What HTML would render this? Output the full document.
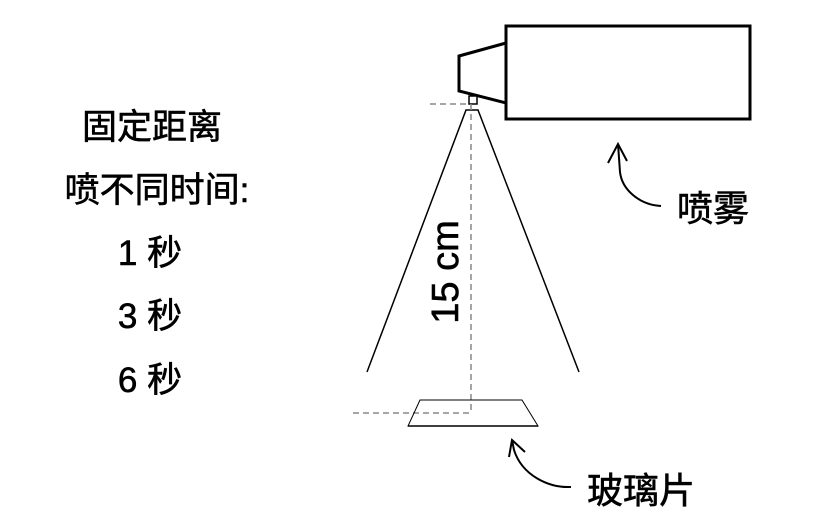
<!DOCTYPE html>
<html><head><meta charset="utf-8"><style>
html,body{margin:0;padding:0;background:#fff;}
svg{display:block;}
text{font-family:"Liberation Sans","Noto Sans CJK SC",sans-serif;fill:#000;stroke:#000;stroke-width:0.6;}
</style></head><body>
<svg width="826" height="530" viewBox="0 0 826 530" xmlns="http://www.w3.org/2000/svg">
<rect x="0" y="0" width="826" height="530" fill="#fff"/>
<rect x="506" y="26" width="244" height="93" fill="#fff" stroke="#000" stroke-width="3"/>
<polygon points="459,56 506,43 506,103 459,91" fill="#fff" stroke="#000" stroke-width="3"/>
<rect x="469" y="96" width="8" height="8" fill="#fff" stroke="#000" stroke-width="1.5"/>
<polyline points="367,372 466,110 478,110 579,372" fill="none" stroke="#000" stroke-width="1.5"/>
<line x1="430" y1="104" x2="470" y2="104" stroke="#888" stroke-width="1.5" stroke-dasharray="6,4"/>
<line x1="471" y1="104" x2="471" y2="413" stroke="#888" stroke-width="1.5" stroke-dasharray="6,4"/>
<line x1="353" y1="413" x2="471" y2="413" stroke="#888" stroke-width="1.5" stroke-dasharray="6,4"/>
<polygon points="420,400 522,400 538,426 408,426" fill="none" stroke="#000" stroke-width="1"/>
<line x1="408" y1="426" x2="538" y2="426" stroke="#000" stroke-width="1.5"/>
<path d="M661,206 C640,205 622,190 620,172 L618,144" fill="none" stroke="#000" stroke-width="2"/>
<polyline points="608,163 618,144 627,161" fill="none" stroke="#000" stroke-width="2"/>
<path d="M571,487 C548,488 522,475 514,450 L512,440" fill="none" stroke="#000" stroke-width="2"/>
<polyline points="509,457 512,440 525,452" fill="none" stroke="#000" stroke-width="2"/>
<text x="152" y="139" font-size="35" text-anchor="middle">固定距离</text>
<text x="157" y="202" font-size="35" text-anchor="middle">喷不同时间:</text>
<text x="150" y="265" font-size="35" text-anchor="middle">1 秒</text>
<text x="150" y="328" font-size="35" text-anchor="middle">3 秒</text>
<text x="150" y="392" font-size="35" text-anchor="middle">6 秒</text>
<text transform="translate(458,272) rotate(-90)" font-size="38" text-anchor="middle">15 cm</text>
<text x="677" y="221" font-size="36">喷雾</text>
<text x="587" y="503" font-size="36">玻璃片</text>
</svg>
</body></html>
